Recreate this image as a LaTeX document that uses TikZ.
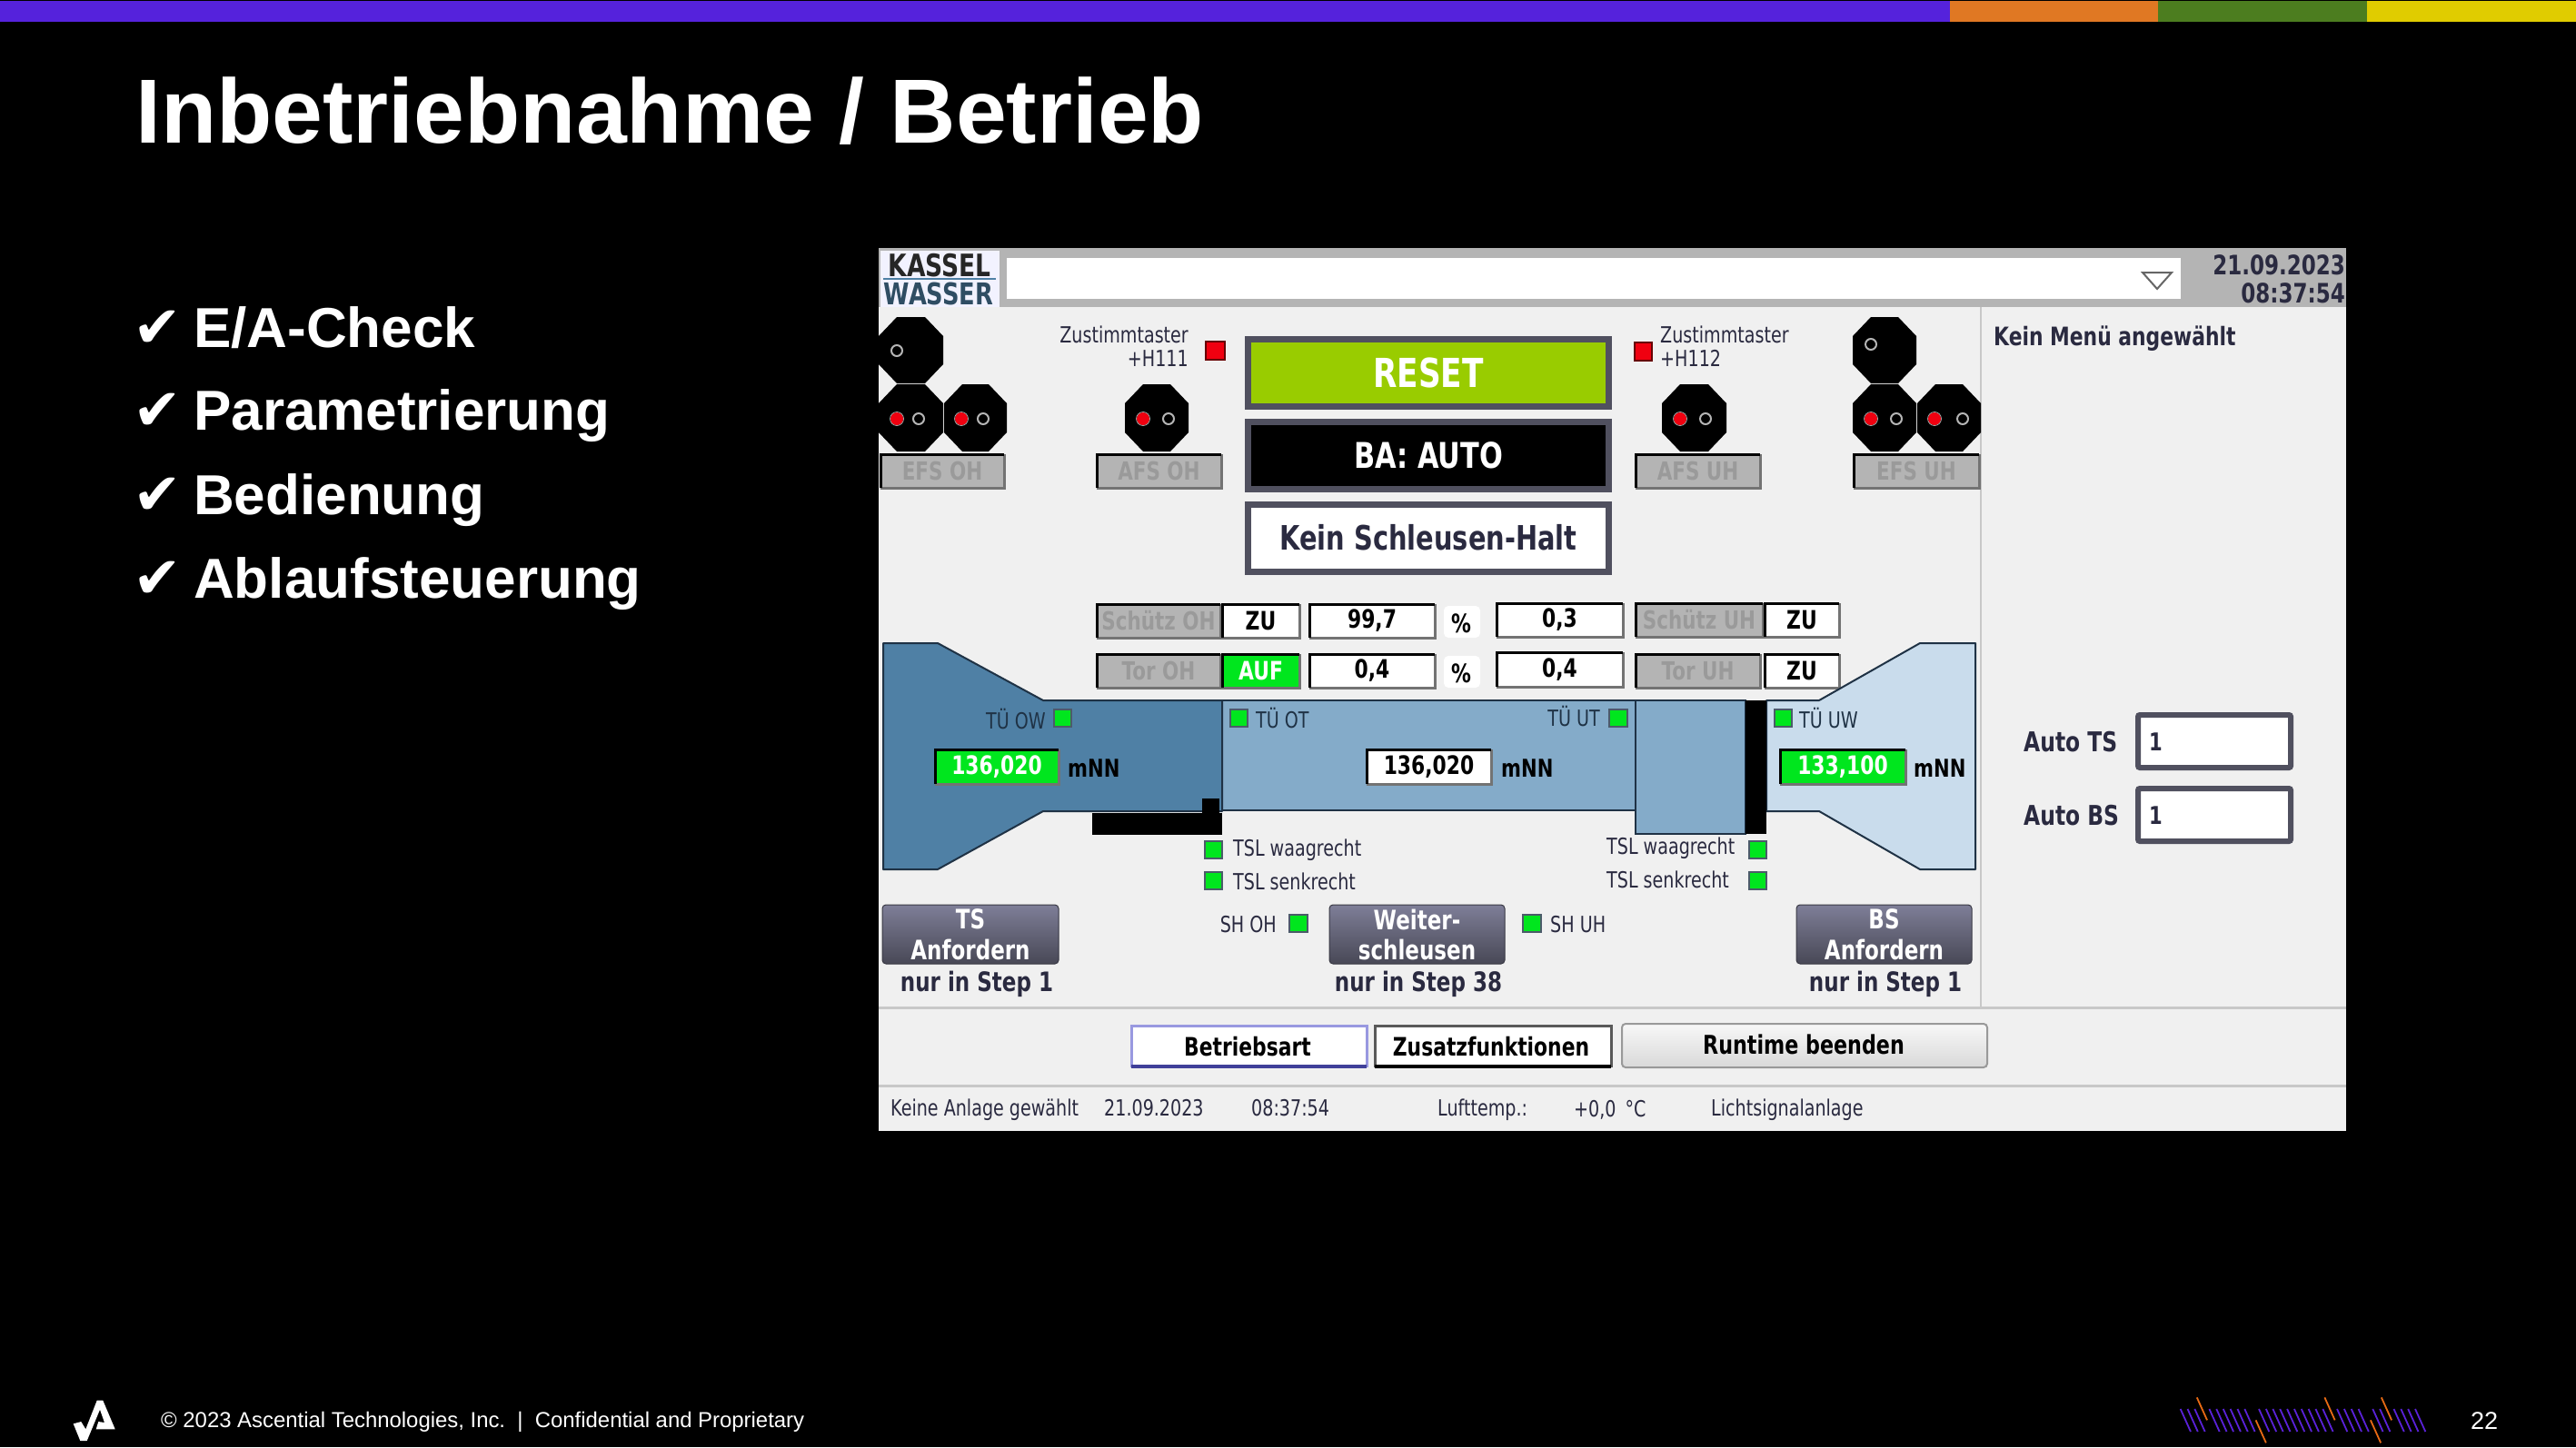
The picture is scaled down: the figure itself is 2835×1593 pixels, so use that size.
\documentclass[tikz,border=0pt]{standalone}
\usepackage{fontspec}
\setmainfont{Liberation Sans}
\newfontfamily\uif[FakeStretch=0.78]{DejaVu Sans}
\newfontfamily\chk{DejaVu Sans}
\definecolor{stripP}{HTML}{5522DC}
\definecolor{stripO}{HTML}{E07823}
\definecolor{stripG}{HTML}{4C7D1F}
\definecolor{stripY}{HTML}{E0CC00}
\definecolor{panel}{HTML}{F0F0F0}
\definecolor{hdr}{HTML}{B4B4B4}
\definecolor{sep}{HTML}{C8C8C8}
\definecolor{frame}{HTML}{50505F}
\definecolor{uitxt}{HTML}{2A2A40}
\definecolor{ghost}{HTML}{9A9A9A}
\definecolor{basinA}{HTML}{4F80A5}
\definecolor{basinB}{HTML}{84ABC9}
\definecolor{basinC}{HTML}{C9DCEC}
\definecolor{basinline}{HTML}{1F3245}
\definecolor{okgreen}{HTML}{00E61E}
\definecolor{wred}{HTML}{F00010}
\definecolor{lime}{HTML}{99CC00}
\definecolor{wave}{HTML}{5A22D8}
\definecolor{waveo}{HTML}{E86A14}
\newcommand\fs[1]{\fontsize{#1}{#1}\selectfont}
\tikzset{
  lbl/.style={inner sep=0pt,font=\uif\fs{24.5},text=uitxt},
  lblb/.style={inner sep=0pt,font=\uif\bfseries\fs{30},text=uitxt},
  ghosttxt/.style={inner sep=0pt,font=\uif\bfseries\fs{27.5},text=ghost},
  valtxt/.style={inner sep=0pt,font=\uif\bfseries\fs{28},text=black},
  bigtxt/.style={inner sep=0pt,font=\uif\bfseries\fs{37}},
  mnn/.style={inner sep=0pt,anchor=west,font=\uif\bfseries\fs{27},text=black},
  menutxt/.style={inner sep=0pt,font=\uif\bfseries\fs{28},text=black},
  bulletitem/.style={inner sep=0pt,anchor=base west,text=white,font=\bfseries\fs{62}},
  bulletchk/.style={inner sep=0pt,anchor=base west,text=white,font=\chk\fs{64}},
}
% octagon x1 y1 x2 y2
\newcommand\Oct[4]{\fill[black] ({#1+20},#2) -- ({#3-20},#2) -- (#3,{#2+21}) -- (#3,{#4-21}) -- ({#3-20},#4) -- ({#1+20},#4) -- (#1,{#4-21}) -- (#1,{#2+21}) -- cycle;}
\newcommand\LampOff[2]{\draw[hdr,line width=2pt] (#1,#2) circle (6);}
\newcommand\LampRed[2]{\fill[wred] (#1,#2) circle (7);\draw[hdr,line width=.7pt] (#1,#2) circle (7.5);}
% sunken: name x1 y1 x2 y2 fill style text
\newcommand\Sunk[8]{%
  \fill[#6] (#2,#3) rectangle (#4,#5);
  \draw[black!55,line width=3pt] (#2,#5) -- (#4,#5) -- (#4,#3);
  \draw[black,line width=3pt] (#2,#5) -- (#2,#3) -- (#4,#3);
  \node[#7] (#1) at ({(#2+#4)/2},{(#3+#5)/2}) {#8};}
\newcommand\GSq[4]{\draw[basinline!80,line width=2pt,fill=okgreen] (#1,#2) rectangle (#3,#4);}
\newcommand\RSq[4]{\draw[black!60!red,line width=1.5pt,fill=wred] (#1,#2) rectangle (#3,#4);}
% dark button: name x1 y1 x2 y2 line1 line2
\newcommand\DBtn[7]{%
  \shade[top color=black!45!white!90!blue,bottom color=frame!90!black,rounded corners=4pt,draw=frame!70!black,line width=1pt] (#2,#3) rectangle (#4,#5);
  \node[inner sep=0pt,font=\uif\bfseries\fs{29.5},text=white] (#1a) at ({(#2+#4)/2},{#3+16}) {#6};
  \node[inner sep=0pt,font=\uif\bfseries\fs{29.5},text=white] (#1b) at ({(#2+#4)/2},{#3+49}) {#7};}
\begin{document}
\begin{tikzpicture}[x=1pt,y=-1pt]
\useasboundingbox (0,0) rectangle (2835,1593);
\fill[black] (0,0) rectangle (2835,1593);
% strip
\fill[stripP] (0,1) rectangle (2146,24);
\fill[stripO] (2146,1) rectangle (2375,24);
\fill[stripG] (2375,1) rectangle (2605,24);
\fill[stripY] (2605,1) rectangle (2835,24);
% title
\node[inner sep=0pt,anchor=base west,text=white,font=\bfseries\fs{100.3}] (title) at (149,157) {Inbetriebnahme / Betrieb};
% bullets
\node[bulletchk] (c1) at (146,382) {✔}; \node[bulletitem] (b1) at (213,382) {E/A-Check};
\node[bulletchk] (c2) at (146,473) {✔}; \node[bulletitem] (b2) at (213,473) {Parametrierung};
\node[bulletchk] (c3) at (146,566) {✔}; \node[bulletitem] (b3) at (213,566) {Bedienung};
\node[bulletchk] (c4) at (146,658) {✔}; \node[bulletitem] (b4) at (213,658) {Ablaufsteuerung};
% panel
\fill[panel] (967,273) rectangle (2582,1245);
\fill[hdr] (967,273) rectangle (2582,338);
\fill[white!95!blue] (969,276) rectangle (1100,338);
\fill[white] (1108,284) rectangle (2400,329);
\draw[black!60,line width=2pt] (2358,300) -- (2390,300) -- (2374,318) -- cycle;
\node[inner sep=0pt,font=\uif\bfseries\fs{34},text=black!85] (kassel) at (1034,292) {KASSEL};
\fill[basinA] (972,306) rectangle (1096,308);
\node[inner sep=0pt,font=\uif\bfseries\fs{33},text=basinA!60!black] (wasser) at (1033,323) {WASSER};
\node[inner sep=0pt,anchor=east,font=\uif\bfseries\fs{29.5},text=uitxt] (date) at (2581,292) {21.09.2023};
\node[inner sep=0pt,anchor=east,font=\uif\bfseries\fs{29.5},text=uitxt] (time) at (2581,323) {08:37:54};
\draw[sep,line width=2pt] (2180,338) -- (2180,1109);
\draw[sep,line width=3pt] (967,1109) -- (2582,1109);
\draw[sep,line width=3pt] (967,1195) -- (2582,1195);
% signals left
\Oct{967}{349}{1038}{422} \Oct{967}{423}{1038}{497} \Oct{1039}{423}{1108}{497} \Oct{1238}{423}{1308}{497}
\LampOff{987}{386}
\LampRed{987}{461}\LampOff{1011}{461}\LampRed{1058}{461}\LampOff{1082}{461}
\LampRed{1258}{461}\LampOff{1286}{461}
\Sunk{efsoh}{969}{500}{1105}{537}{hdr}{ghosttxt}{EFS OH}
\Sunk{afsoh}{1207}{500}{1344}{537}{hdr}{ghosttxt}{AFS OH}
\node[lbl,anchor=east] (zt1) at (1308,368) {Zustimmtaster};
\node[lbl,anchor=east] (h1) at (1308,395) {+H111};
\RSq{1327}{376}{1348}{396}
% signals right
\Oct{1829}{423}{1900}{497}
\Oct{2039}{349}{2109}{422} \Oct{2039}{423}{2109}{497} \Oct{2110}{423}{2180}{497}
\LampRed{1849}{461}\LampOff{1877}{461}
\LampOff{2059}{379}
\LampRed{2059}{461}\LampOff{2087}{461}\LampRed{2129}{461}\LampOff{2160}{461}
\Sunk{afsuh}{1800}{500}{1937}{537}{hdr}{ghosttxt}{AFS UH}
\Sunk{efsuh}{2040}{500}{2178}{537}{hdr}{ghosttxt}{EFS UH}
\RSq{1799}{377}{1818}{397}
\node[lbl,anchor=west] (zt2) at (1827,368) {Zustimmtaster};
\node[lbl,anchor=west] (h2) at (1827,394) {+H112};
\node[inner sep=0pt,anchor=west,font=\uif\bfseries\fs{28},text=uitxt] (menu) at (2194,373) {Kein Menü angewählt};
% big buttons
\draw[frame,line width=7pt,fill=lime] (1373,373) rectangle (1770,447);
\node[bigtxt,font=\uif\bfseries\fs{44},text=white] (reset) at (1572,410) {RESET};
\draw[frame,line width=7pt,fill=black] (1373,464) rectangle (1770,538);
\node[bigtxt,font=\uif\bfseries\fs{39},text=white] (ba) at (1572,501) {BA: AUTO};
\draw[frame,line width=7pt,fill=white] (1373,555) rectangle (1770,629);
\node[bigtxt,text=uitxt] (halt) at (1572,592) {Kein Schleusen-Halt};
% rows
\Sunk{sch1}{1207}{665}{1343}{702}{hdr}{ghosttxt}{Schütz OH}
\Sunk{zu1}{1345}{665}{1430}{702}{white}{valtxt}{ZU}
\Sunk{v1}{1441}{665}{1579}{702}{white}{valtxt}{99,7}
\fill[white,rounded corners=5pt] (1589,667) rectangle (1629,702);
\node[valtxt] (pc1) at (1608,686) {\%};
\Sunk{v2}{1647}{664}{1786}{701}{white}{valtxt}{0,3}
\Sunk{sch2}{1800}{664}{1940}{701}{hdr}{ghosttxt}{Schütz UH}
\Sunk{zu2}{1942}{664}{2024}{701}{white}{valtxt}{ZU}
\Sunk{tor1}{1207}{720}{1343}{757}{hdr}{ghosttxt}{Tor OH}
\Sunk{auf}{1345}{720}{1430}{757}{okgreen}{valtxt,text=white}{AUF}
\Sunk{v3}{1441}{720}{1579}{757}{white}{valtxt}{0,4}
\fill[white,rounded corners=5pt] (1589,722) rectangle (1629,757);
\node[valtxt] (pc2) at (1608,741) {\%};
\Sunk{v4}{1647}{718}{1786}{756}{white}{valtxt}{0,4}
\Sunk{tor2}{1800}{720}{1937}{757}{hdr}{ghosttxt}{Tor UH}
\Sunk{zu3}{1942}{720}{2024}{757}{white}{valtxt}{ZU}
% basins
\draw[basinline,line width=2pt,fill=basinC,line join=round] (1944,771) -- (2002,771) -- (2113,708) -- (2174,708) -- (2174,957) -- (2113,957) -- (2002,893) -- (1944,893) -- cycle;
\draw[basinline,line width=2pt,fill=basinB] (1345,771) rectangle (1800,892);
\draw[basinline,line width=2pt,fill=basinB] (1800,771) rectangle (1921,918);
\fill[black] (1921,771) rectangle (1944,918);
\draw[basinline,line width=2pt,fill=basinA,line join=round] (972,708) -- (1032,708) -- (1148,771) -- (1345,771) -- (1345,893) -- (1148,893) -- (1032,957) -- (972,957) -- cycle;
\fill[black] (1202,895) rectangle (1345,919);
\fill[black] (1323,879) rectangle (1342,896);
% indicators
\GSq{1160}{781}{1179}{800} \node[lbl,text=basinline,anchor=east] (towl) at (1151,791) {TÜ OW};
\GSq{1354}{781}{1373}{800} \node[lbl,text=basinline,anchor=west] (totl) at (1382,790) {TÜ OT};
\GSq{1771}{781}{1791}{800} \node[lbl,text=basinline,anchor=east] (tutl) at (1761,788) {TÜ UT};
\GSq{1953}{781}{1972}{800} \node[lbl,text=basinline,anchor=west] (tuwl) at (1980,790) {TÜ UW};
% values
\Sunk{lv1}{1029}{825}{1165}{863}{okgreen}{valtxt,text=white}{136,020}
\node[mnn] (m1) at (1175,846) {mNN};
\Sunk{lv2}{1504}{825}{1641}{863}{white}{valtxt}{136,020}
\node[mnn] (m2) at (1652,846) {mNN};
\Sunk{lv3}{1959}{825}{2097}{863}{okgreen}{valtxt,text=white}{133,100}
\node[mnn] (m3) at (2106,846) {mNN};
% TSL
\GSq{1326}{926}{1345}{945} \node[lbl,anchor=west] (ts1) at (1357,936) {TSL waagrecht};
\GSq{1326}{960}{1345}{979} \node[lbl,anchor=west] (ts2) at (1357,970) {TSL senkrecht};
\GSq{1925}{926}{1944}{945} \node[lbl,anchor=west] (ts3) at (1768,934) {TSL waagrecht};
\GSq{1925}{960}{1944}{979} \node[lbl,anchor=west] (ts4) at (1768,968) {TSL senkrecht};
\GSq{1419}{1007}{1439}{1026} \node[lbl,anchor=east] (shoh) at (1405,1018) {SH OH};
\GSq{1676}{1007}{1696}{1026} \node[lbl,anchor=west] (shuh) at (1706,1018) {SH UH};
% dark buttons
\DBtn{bts}{971}{996}{1165}{1061}{TS}{Anfordern}
\DBtn{bws}{1463}{996}{1656}{1061}{Weiter-}{schleusen}
\DBtn{bbs}{1977}{996}{2170}{1061}{BS}{Anfordern}
\node[lblb,font=\uif\bfseries\fs{29.5}] (n1) at (1075,1083) {nur in Step 1};
\node[lblb,font=\uif\bfseries\fs{29.5}] (n2) at (1561,1083) {nur in Step 38};
\node[lblb,font=\uif\bfseries\fs{29.5}] (n3) at (2075,1083) {nur in Step 1};
% auto
\node[lblb,anchor=west] (ats) at (2227,817) {Auto TS};
\node[lblb,anchor=west] (abs) at (2227,898) {Auto BS};
\draw[frame,line width=6pt,fill=white,rounded corners=2pt] (2353,787) rectangle (2521,845);
\draw[frame,line width=6pt,fill=white,rounded corners=2pt] (2353,868) rectangle (2521,926);
\node[inner sep=0pt,anchor=west,font=\uif\bfseries\fs{27},text=uitxt] (ats1) at (2365,817) {1};
\node[inner sep=0pt,anchor=west,font=\uif\bfseries\fs{27},text=uitxt] (abs1) at (2365,898) {1};
% menu buttons
\fill[white] (1245,1128) rectangle (1504,1175);
\draw[black!30!blue!40!white,line width=3pt] (1245,1175) -- (1245,1129) -- (1504,1129) -- (1504,1175);
\draw[black!30!blue!50!gray,line width=4pt] (1245,1174) -- (1504,1174);
\node[menutxt] (bart) at (1373,1152) {Betriebsart};
\fill[white] (1513,1128) rectangle (1773,1175);
\draw[black!65,line width=3pt] (1513,1175) -- (1513,1129) -- (1773,1129) -- (1773,1175);
\draw[black,line width=4pt] (1513,1174) -- (1773,1174);
\node[menutxt] (zus) at (1641,1152) {Zusatzfunktionen};
\shade[top color=white!97!black,bottom color=black!15,draw=black!40,line width=2pt,rounded corners=4pt] (1785,1127) rectangle (2187,1175);
\node[menutxt,font=\uif\bfseries\fs{28.5}] (rt) at (1985,1150) {Runtime beenden};
% status
\node[lbl,anchor=west] (s1) at (980,1222) {Keine Anlage gewählt};
\node[lbl,anchor=west] (s2) at (1215,1220) {21.09.2023};
\node[lbl,anchor=west] (s3) at (1377,1220) {08:37:54};
\node[lbl,anchor=west] (s4) at (1582,1222) {Lufttemp.:};
\node[lbl,anchor=west] (s5) at (1732,1222) {+0,0\hspace{10pt}°C};
\node[lbl,anchor=west] (s6) at (1883,1222) {Lichtsignalanlage};
% footer
\fill[white] (80.7,1567.3) -- (89.3,1565) -- (94.3,1573.3) -- (106.7,1541.7) -- (113.3,1541.7) -- (126.7,1573.3) -- (105.7,1573.3) -- (108.3,1565) -- (115,1566) -- (110,1551.7) -- (95.7,1586) -- (88.3,1586) -- cycle;
\node[inner sep=0pt,anchor=mid west,text=white,font=\fs{23.9}] (copy) at (177,1569) {© 2023 Ascential Technologies, Inc.\ \ |\ \ Confidential and Proprietary};
\node[inner sep=0pt,text=white,font=\fs{27}] (page) at (2734,1564) {22};
\foreach \z in {292,315,338,385,408,430,453,476,499,545,568,590,613,636,659,682,705,728,751,797,820,843,866,912,935,980,1003,1026,1049}
  \draw[wave,line width=1.8pt] ({2300+\z/2.93},1551) -- ({2300+(\z+33)/2.93},1576);
\foreach \z/\yy in {345/115,535/190,757/115,905/190,940/115}
  \draw[waveo,line width=1.8pt] ({2300+\z/2.93},{1500+\yy/3}) -- ({2300+(\z+33)/2.93},{1500+(\yy+75)/3});
\end{tikzpicture}
\end{document}
